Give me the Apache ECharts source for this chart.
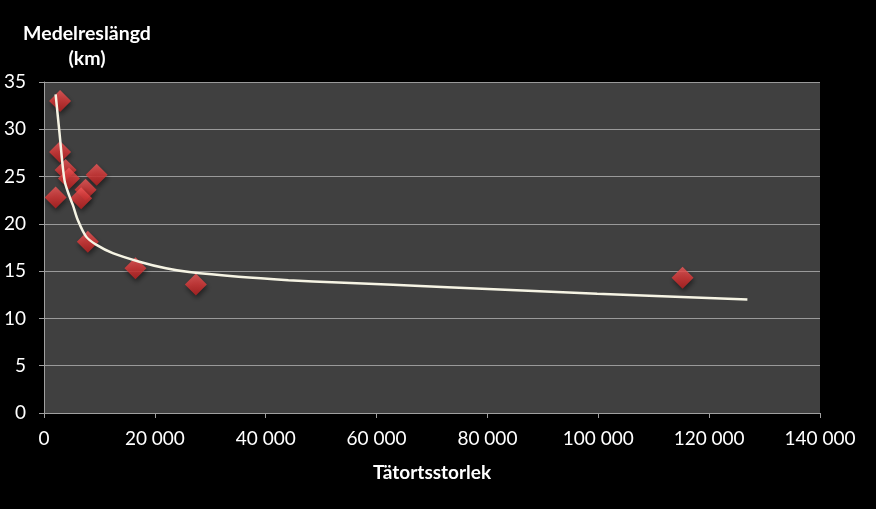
<!DOCTYPE html>
<html>
<head>
<meta charset="utf-8">
<script src="https://cdn.jsdelivr.net/npm/echarts@6/dist/echarts.min.js"></script>
<style>
  html, body { margin: 0; padding: 0; background: #000; }
  #chart { width: 876px; height: 509px; }
</style>
</head>
<body>
<div id="chart"></div>
<script>
// tätortsstorlek (invånare) och medelreslängd (km)
var storlek = [2900, 2900, 3900, 4500, 9500, 2100, 7500, 6700, 7900, 16500, 27400, 115200];
var reslangd = [33.0, 27.6, 25.7, 24.8, 25.2, 22.8, 23.6, 22.7, 18.1, 15.3, 13.6, 14.3];

// trendlinje
var trendX = [2100, 2800, 3700, 4600, 5200, 6100, 7600, 9400, 12400, 17200, 22000, 26200, 35100, 44100, 53100, 72800, 99800, 126900];
var trendY = [33.7, 29.6, 24.6, 22.9, 22.0, 20.4, 18.65, 17.8, 16.9, 16.0, 15.3, 14.9, 14.4, 14.05, 13.8, 13.3, 12.6, 12.0];

var yTicks = [0, 5, 10, 15, 20, 25, 30, 35];

var chart = echarts.init(document.getElementById('chart'));

function pairs(xs, ys) {
	var out = [];
	for (var i = 0; i < xs.length; i++) {
		out.push([xs[i], ys[i]]);
	}
	return out;
}

var font = 'Lato, "Open Sans", sans-serif';

var option = {
	backgroundColor: '#000',
	animation: false,
	title: {
		text: 'Medelreslängd\n(km)',
		left: 82,
		top: 16,
		textAlign: 'center',
		textStyle: {
			color: '#fff',
			fontFamily: font,
			fontWeight: 'bold',
			fontSize: 19.5,
			lineHeight: 25,
			align: 'center'
		}
	},
	grid: {
		left: 44,
		right: 56,
		top: 82,
		bottom: 96,
		show: true,
		backgroundColor: '#404040',
		borderWidth: 0
	},
	xAxis: {
		type: 'value',
		min: 0,
		max: 140000,
		interval: 20000,
		name: 'Tätortsstorlek',
		nameLocation: 'middle',
		nameGap: 50,
		nameTextStyle: {
			color: '#fff',
			fontFamily: font,
			fontWeight: 'bold',
			fontSize: 19
		},
		axisLine: { lineStyle: { color: '#a0a0a0', width: 1 } },
		axisTick: { show: true, length: 5, lineStyle: { color: '#a0a0a0' } },
		splitLine: { show: false },
		axisLabel: {
			color: '#fff',
			fontFamily: font,
			fontSize: 19,
			margin: 16,
			formatter: function (v) {
				return String(v).replace(/\B(?=(\d{3})+(?!\d))/g, ' ');
			}
		}
	},
	yAxis: {
		type: 'value',
		min: yTicks[0],
		max: yTicks[yTicks.length - 1],
		interval: 5,
		axisLine: { show: true, lineStyle: { color: '#a0a0a0', width: 1 } },
		axisTick: { show: true, length: 5, lineStyle: { color: '#a0a0a0' } },
		splitLine: { show: true, lineStyle: { color: '#9a9a9a', width: 1 } },
		axisLabel: {
			color: '#fff',
			fontFamily: font,
			fontSize: 19,
			margin: 18
		}
	},
	series: [{
		name: 'Trend',
		type: 'line',
		data: pairs(trendX, trendY),
		smooth: 0.3,
		symbol: 'none',
		lineStyle: { color: '#f6f4e4', width: 2.5 },
		z: 3
	}, {
		name: 'Medelreslängd',
		type: 'scatter',
		data: pairs(storlek, reslangd),
		symbol: 'diamond',
		symbolSize: [22, 22],
		itemStyle: {
			color: new echarts.graphic.LinearGradient(0, 0, 0, 1, [
				{ offset: 0, color: '#f25a5a' },
				{ offset: 0.5, color: '#e03a3a' },
				{ offset: 1, color: '#bc2020' }
			]),
			shadowBlur: 5,
			shadowOffsetX: 1,
			shadowOffsetY: 3,
			shadowColor: 'rgba(0,0,0,0.6)'
		},
		z: 2
	}]
};

chart.setOption(option);
</script>
</body>
</html>
